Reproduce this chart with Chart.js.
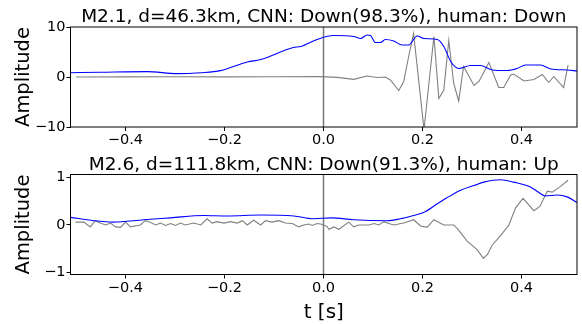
<!DOCTYPE html>
<html lang="en">
<head>
<meta charset="UTF-8">
<title>Polarity examples</title>
<script src="https://cdn.jsdelivr.net/npm/chart.js"></script>
<style>
  html, body { margin: 0; padding: 0; background: #fff; }
  #wrap { position: relative; width: 582px; height: 324px; }
  #wrap canvas { position: absolute; left: 0; }
</style>
</head>
<body>
<div id="wrap">
  <canvas id="topChart" width="582" height="148" style="top:0"></canvas>
  <canvas id="bottomChart" width="582" height="176" style="top:148px"></canvas>
</div>
<script>
// shared time axis
const xTicks = [-0.4, -0.2, 0, 0.2, 0.4];
const xRange = [-0.511, 0.512];
const onsetT = 0;

// event 1
const title1 = 'M2.1, d=46.3km, CNN: Down(98.3%), human: Down';
const yTicks1 = [-10, 0, 10];
const yRange1 = [-10, 10];
const waveT1 = [-0.50, -0.40, -0.30, -0.20, -0.10, -0.007, 0.028, 0.061, 0.088, 0.108, 0.125, 0.135, 0.152, 0.162,
  0.172, 0.182, 0.203, 0.223, 0.233, 0.243, 0.253, 0.263, 0.273, 0.283, 0.304, 0.314, 0.334, 0.354, 0.364,
  0.378, 0.384, 0.405, 0.425, 0.442, 0.455, 0.465, 0.485, 0.494];
const waveA1 = [0.0, 0.02, 0.05, 0.03, 0.05, 0.07, -0.07, -0.47, 0.2, -0.1, 0.0, -0.6, -2.7, -0.9,
  4.1, 8.7, -10.5, 8.1, -4.3, -2.6, 7.3, -1.3, -4.8, 2.1, -1.7, -0.9, 2.9, -2.1, -2.1,
  0.4, 0.6, -0.8, -0.5, 0.5, -1.1, 0.1, -2.1, 2.4];
const envT1 = [-0.511, -0.45, -0.356, -0.296, -0.248, -0.208, -0.154, -0.127, -0.061, -0.046, -0.013, 0.020, 0.061,
  0.075, 0.088, 0.095, 0.105, 0.115, 0.125, 0.142, 0.159, 0.172, 0.189, 0.203, 0.230, 0.243, 0.257, 0.273,
  0.297, 0.317, 0.341, 0.371, 0.391, 0.408, 0.438, 0.459, 0.492, 0.512];
const envA1 = [0.86, 0.95, 1.07, 0.67, 0.86, 1.27, 3.0, 3.5, 5.9, 6.1, 7.5, 8.3, 8.1,
  7.7, 8.4, 8.3, 6.9, 6.9, 7.5, 7.2, 6.4, 6.4, 8.2, 7.7, 7.5, 6.1, 3.1, 1.7,
  2.3, 2.3, 1.4, 1.3, 1.7, 2.4, 2.4, 1.6, 1.4, 1.2];

// event 2
const title2 = 'M2.6, d=111.8km, CNN: Down(91.3%), human: Up';
const yTicks2 = [-1, 0, 1];
const yRange2 = [-1.04, 1.06];
const waveT2 = [-0.501, -0.484, -0.471, -0.461, -0.451, -0.440, -0.430, -0.420, -0.410, -0.400, -0.390, -0.370,
  -0.360, -0.349, -0.339, -0.329, -0.319, -0.309, -0.299, -0.289, -0.279, -0.262, -0.248, -0.235, -0.225,
  -0.215, -0.201, -0.188, -0.174, -0.164, -0.154, -0.141, -0.127, -0.117, -0.104, -0.090, -0.077, -0.063,
  -0.050, -0.040, -0.030, -0.023, -0.013, -0.006, 0.007, 0.011, 0.021, 0.031, 0.051, 0.061, 0.071, 0.092,
  0.102, 0.112, 0.122, 0.132, 0.142, 0.162, 0.182, 0.196, 0.209, 0.223, 0.243, 0.263, 0.273, 0.290, 0.304,
  0.311, 0.323, 0.331, 0.341, 0.358, 0.374, 0.388, 0.403, 0.425, 0.437, 0.452, 0.462, 0.479, 0.494];
const waveA2 = [0.06, 0.06, -0.04, 0.09, 0.04, 0.0, 0.04, -0.04, -0.05, 0.06, -0.04, 0.0,
  0.09, 0.05, 0.0, 0.04, -0.01, 0.03, -0.01, 0.04, 0.0, 0.04, 0.0, 0.13, 0.04,
  0.07, 0.04, 0.07, 0.04, 0.09, 0.0, 0.1, 0.0, 0.09, 0.06, 0.09, 0.04, 0.03,
  -0.04, 0.0, 0.02, -0.01, 0.03, 0.02, -0.03, -0.09, -0.04, -0.09, 0.06, -0.04, 0.0, 0.0,
  0.03, 0.0, 0.07, 0.03, 0.0, 0.04, 0.11, -0.02, -0.05, 0.11, 0.0, 0.0, -0.11, -0.34, -0.46,
  -0.53, -0.70, -0.62, -0.42, -0.22, -0.01, 0.36, 0.56, 0.30, 0.39, 0.71, 0.69, 0.81, 0.94];
const envT2 = [-0.511, -0.464, -0.425, -0.363, -0.309, -0.242, -0.194, -0.127, -0.060, -0.020, 0.016, 0.061,
  0.128, 0.155, 0.182, 0.202, 0.229, 0.249, 0.277, 0.304, 0.324, 0.358, 0.384, 0.418, 0.435, 0.448,
  0.472, 0.492, 0.512];
const envA2 = [0.16, 0.09, 0.06, 0.11, 0.15, 0.20, 0.19, 0.21, 0.19, 0.13, 0.15, 0.11,
  0.09, 0.13, 0.20, 0.26, 0.44, 0.57, 0.73, 0.83, 0.90, 0.95, 0.90, 0.80, 0.68, 0.61,
  0.63, 0.59, 0.47];

const FONT = 'DejaVu Sans';

function pts(ts, vs) {
  return ts.map((t, i) => ({ x: t, y: vs[i] }));
}

function minusFmt(v, digits) {
  const s = Math.abs(v).toFixed(digits);
  return v < 0 ? '\u2212' + s : s;
}

// matplotlib-like box round the axes
const frame = {
  id: 'frame',
  afterDatasetsDraw(chart) {
    const { ctx, chartArea: a } = chart;
    ctx.save();
    ctx.strokeStyle = '#000';
    ctx.lineWidth = 1;
    ctx.strokeRect(a.left, a.top, a.right - a.left, a.bottom - a.top);
    ctx.restore();
  }
};

function buildChart(id, cfg) {
  return new Chart(document.getElementById(id), {
    type: 'line',
    data: {
      datasets: [
        { data: pts(cfg.envT, cfg.envA), borderColor: '#0000ff', borderWidth: 1.1, order: 1, cubicInterpolationMode: 'monotone' },
        { data: pts(cfg.waveT, cfg.waveA), borderColor: '#808080', borderWidth: 1.1, order: 2 },
        { data: [{ x: onsetT, y: cfg.yRange[0] }, { x: onsetT, y: cfg.yRange[1] }], borderColor: '#7a7a7a', borderWidth: 1.5, order: 3 }
      ]
    },
    options: {
      responsive: false,
      animation: false,
      events: [],
      elements: { point: { radius: 0 }, line: { tension: 0 } },
      layout: { padding: { left: 0, right: 5, top: 0, bottom: 0 } },
      plugins: {
        legend: { display: false },
        tooltip: { enabled: false },
        title: {
          display: true,
          fullSize: false,
          text: cfg.title,
          color: '#000',
          font: { family: FONT, size: 18.5, weight: 'normal', lineHeight: 1 },
          padding: { top: cfg.titleTop, bottom: cfg.titleBottom }
        }
      },
      scales: {
        x: {
          type: 'linear',
          min: xRange[0],
          max: xRange[1],
          afterBuildTicks: s => { s.ticks = xTicks.map(v => ({ value: v })); },
          afterFit: s => { s.height = cfg.xHeight; },
          grid: { drawOnChartArea: false, tickLength: 4, tickColor: '#000', tickWidth: 1 },
          border: { display: false },
          ticks: {
            padding: 1, color: '#000', maxRotation: 0, autoSkip: false,
            font: { family: FONT, size: 14.5 },
            callback: v => minusFmt(v, 1)
          },
          title: cfg.xTitle ? {
            display: true, text: cfg.xTitle, color: '#000',
            font: { family: FONT, size: 20, lineHeight: 1 },
            padding: { top: 0, bottom: 1 }
          } : { display: false }
        },
        y: {
          min: cfg.yRange[0],
          max: cfg.yRange[1],
          afterBuildTicks: s => { s.ticks = cfg.yTicks.map(v => ({ value: v })); },
          afterFit: s => { s.width = 70.5; },
          grid: { drawOnChartArea: false, tickLength: 4, tickColor: '#000', tickWidth: 1 },
          border: { display: false },
          ticks: {
            padding: 1, color: '#000',
            font: { family: FONT, size: 14.5 },
            callback: v => minusFmt(v, 0)
          },
          title: {
            display: true, text: 'Amplitude', color: '#000',
            font: { family: FONT, size: 19.5 },
            padding: { top: 12.5, bottom: 0 }
          }
        }
      }
    },
    plugins: [frame]
  });
}

buildChart('topChart', {
  title: title1, titleTop: 8.25, titleBottom: 0.25,
  yTicks: yTicks1, yRange: yRange1,
  waveT: waveT1, waveA: waveA1, envT: envT1, envA: envA1,
  xHeight: 21
});

buildChart('bottomChart', {
  title: title2, titleTop: 7.75, titleBottom: 0.25,
  yTicks: yTicks2, yRange: yRange2,
  waveT: waveT2, waveA: waveA2, envT: envT2, envA: envA2,
  xHeight: 49.5, xTitle: 't [s]'
});
</script>
</body>
</html>
